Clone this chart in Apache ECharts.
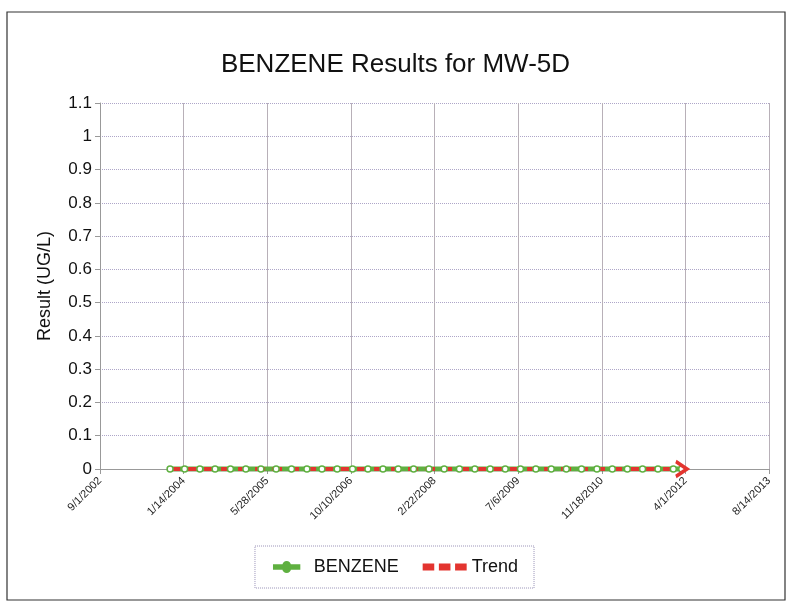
<!DOCTYPE html>
<html>
<head>
<meta charset="utf-8">
<script src="https://cdn.jsdelivr.net/npm/echarts@6/dist/echarts.min.js"></script>
<style>html,body{margin:0;padding:0;background:#fff}#c{width:791px;height:604px}</style>
</head>
<body>
<div id="c"></div>
<script>
var sampleDates = ["2003-10-25","2004-01-20","2004-04-20","2004-07-20","2004-10-20","2005-01-20","2005-04-20","2005-07-20","2005-10-20","2006-01-20","2006-04-20","2006-07-20","2006-10-20","2007-01-20","2007-04-20","2007-07-20","2007-10-20","2008-01-20","2008-04-20","2008-07-20","2008-10-20","2009-01-20","2009-04-20","2009-07-20","2009-10-20","2010-01-20","2010-04-20","2010-07-20","2010-10-20","2011-01-20","2011-04-20","2011-07-20","2011-10-20","2012-01-20","2012-03-10"];
var benzeneValues = [0,0,0,0,0,0,0,0,0,0,0,0,0,0,0,0,0,0,0,0,0,0,0,0,0,0,0,0,0,0,0,0,0,0,0];
var trendDates = ["2003-10-25","2012-04-01"];
var trendValues = [0,0];
var xOriginDate = "2002-09-01";
var xTickDays = 500;
var xMaxDays = 4000;
var yTicks = [0,0.1,0.2,0.3,0.4,0.5,0.6,0.7,0.8,0.9,1,1.1];

var DAY = 86400000;
function ts(s){var p=s.split('-');return Date.UTC(+p[0],+p[1]-1,+p[2]);}
var origin = ts(xOriginDate);
function off(s){return Math.round((ts(s)-origin)/DAY);}
function fmt(v){var d=new Date(origin+v*DAY);return (d.getUTCMonth()+1)+'/'+d.getUTCDate()+'/'+d.getUTCFullYear();}

var benzData = sampleDates.map(function(d,i){return [off(d),benzeneValues[i]];});
var trendData = trendDates.map(function(d,i){
  var item = {value:[off(d),trendValues[i]]};
  if(i===trendDates.length-1){
    item.symbol='path://M0,0 L10,9 L0,18';
    item.symbolSize=[11,15];
    item.symbolOffset=[-4,0];
    item.itemStyle={color:'none',borderColor:'#e3342f',borderWidth:3.5};
  } else { item.symbol='none'; }
  return item;
});

var chart = echarts.init(document.getElementById('c'));
chart.setOption({
  backgroundColor:'#ffffff',
  animation:false,
  textStyle:{fontFamily:'Liberation Sans, Arial, sans-serif'},
  graphic:[{type:'rect',shape:{x:7,y:12,width:778,height:588},style:{fill:'none',stroke:'#333',lineWidth:1.2},z:-1}],
  title:{text:'BENZENE Results for MW-5D',left:'center',top:47,textStyle:{fontSize:26,fontWeight:'normal',color:'#111'}},
  grid:{left:100,right:22,top:103,bottom:135},
  legend:{
    bottom:16,left:'center',
    data:[
      {name:'BENZENE',icon:'path://M0,3 L14,3 A4.5,4.5 0 1,1 24,3 L38,3 L38,8 L24,8 A4.5,4.5 0 1,1 14,8 L0,8 Z',itemStyle:{color:'#5fb040'}},
      {name:'Trend',icon:'path://M0,2 L10,2 L10,8 L0,8 Z M14,2 L24,2 L24,8 L14,8 Z M28,2 L38,2 L38,8 L28,8 Z',itemStyle:{color:'#e3342f'}}
    ],
    itemWidth:44,itemHeight:10,itemGap:24,
    textStyle:{fontSize:18,color:'#111'},
    borderColor:'#9a93b8',borderWidth:1,borderType:'dotted',padding:[12,16,12,18],
    selectedMode:false
  },
  xAxis:{
    type:'value',min:0,max:xMaxDays,interval:xTickDays,
    axisLine:{show:true,lineStyle:{color:'#999'}},
    axisTick:{show:true,lineStyle:{color:'#999'}},
    splitLine:{show:true,lineStyle:{color:'#b8b0b8',width:1}},
    axisLabel:{rotate:45,fontSize:11,color:'#222',formatter:function(v){return fmt(v);},margin:10}
  },
  yAxis:{
    type:'value',min:yTicks[0],max:yTicks[yTicks.length-1],interval:0.1,
    name:'Result (UG/L)',nameLocation:'middle',nameGap:46,nameTextStyle:{fontSize:18,color:'#111'},
    axisLine:{show:true,lineStyle:{color:'#999'}},
    axisTick:{show:true,lineStyle:{color:'#999'}},
    splitLine:{show:true,lineStyle:{color:'#aea6c8',type:'dotted',width:1}},
    axisLabel:{fontSize:17,color:'#111',formatter:function(v){return String(Math.round(v*10)/10);}}
  },
  series:[
    {name:'BENZENE',type:'line',data:benzData,symbol:'circle',symbolSize:6,
     lineStyle:{color:'#5fb040',width:5,shadowColor:'rgba(0,0,0,0.35)',shadowOffsetY:2,shadowBlur:2},
     itemStyle:{color:'#ffffff',borderColor:'#5fb040',borderWidth:1.5},color:'#5fb040'},
    {name:'Trend',type:'line',data:trendData,
     lineStyle:{color:'#e3342f',width:4,type:[10,7]},
     itemStyle:{color:'#e3342f'},color:'#e3342f',z:3}
  ]
});
</script>
</body>
</html>
